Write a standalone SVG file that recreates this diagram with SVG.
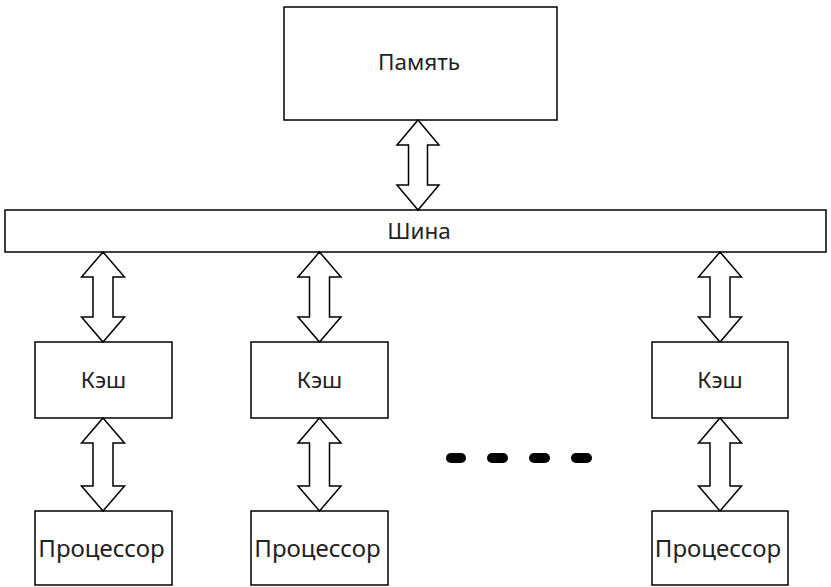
<svg xmlns="http://www.w3.org/2000/svg" width="831" height="587" viewBox="0 0 831 587">
<style>
.box{fill:#fff;stroke:#000;stroke-width:1.5}
.arr{fill:#fff;stroke:#000;stroke-width:1.5;stroke-linejoin:miter}
.lbl{font-family:"Noto Sans",sans-serif;font-size:22.5px;fill:#222;text-anchor:middle}
.cpu{font-size:24px}
.dot{stroke:#000;stroke-width:10;stroke-linecap:round}
</style>
<g id="memory"><rect class="box" x="284" y="7" width="273" height="113"/><text class="lbl" x="419" y="70">Память</text></g>
<g id="bus"><rect class="box" x="5" y="210" width="821" height="42"/><text class="lbl" x="419" y="239">Шина</text></g>
<g id="cache1"><rect class="box" x="35" y="342" width="137" height="76"/><text class="lbl" x="103.5" y="388">Кэш</text></g>
<g id="cache2"><rect class="box" x="251" y="342" width="137" height="76"/><text class="lbl" x="319.5" y="388">Кэш</text></g>
<g id="cache3"><rect class="box" x="652" y="342" width="136" height="76"/><text class="lbl" x="720" y="388">Кэш</text></g>
<g id="cpu1"><rect class="box" x="35" y="511" width="137" height="74"/><text class="lbl cpu" x="101.5" y="557">Процессор</text></g>
<g id="cpu2"><rect class="box" x="251" y="511" width="137" height="74"/><text class="lbl cpu" x="317.5" y="557">Процессор</text></g>
<g id="cpu3"><rect class="box" x="652" y="511" width="136" height="74"/><text class="lbl cpu" x="718" y="557">Процессор</text></g>
<g id="dots">
<line class="dot" x1="451" y1="458" x2="461" y2="458"/>
<line class="dot" x1="492" y1="458" x2="503" y2="458"/>
<line class="dot" x1="534" y1="458" x2="545" y2="458"/>
<line class="dot" x1="576" y1="458" x2="587" y2="458"/>
</g>
<g id="connectors">
<polygon class="arr" points="418,120 439,145 427.5,145 427.5,185 439,185 418,210 397,185 408.5,185 408.5,145 397,145"/>
<polygon class="arr" points="103,252 124.5,277 113,277 113,317 124.5,317 103,342 81.5,317 93,317 93,277 81.5,277"/>
<polygon class="arr" points="319.5,252 341,277 329.5,277 329.5,317 341,317 319.5,342 298,317 309.5,317 309.5,277 298,277"/>
<polygon class="arr" points="720,252 741.5,277 730,277 730,317 741.5,317 720,342 698.5,317 710,317 710,277 698.5,277"/>
<polygon class="arr" points="103,418 124.5,443 113,443 113,486 124.5,486 103,511 81.5,486 93,486 93,443 81.5,443"/>
<polygon class="arr" points="319.5,418 341,443 329.5,443 329.5,486 341,486 319.5,511 298,486 309.5,486 309.5,443 298,443"/>
<polygon class="arr" points="720,418 741.5,443 730,443 730,486 741.5,486 720,511 698.5,486 710,486 710,443 698.5,443"/>
</g>
</svg>
